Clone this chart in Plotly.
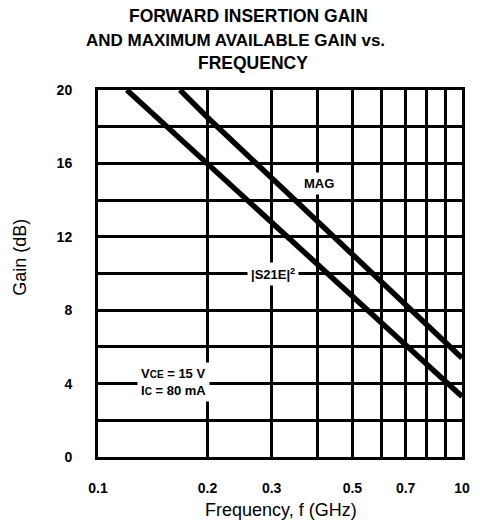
import numpy as np
import plotly.graph_objects as go

# ---- data ----
s21_freq = [0.12, 0.2, 0.3, 0.5, 0.7, 1.0]
s21_gain = [20.0, 16.0, 12.8, 8.8, 6.1, 3.3]
mag_freq = [0.168, 0.2, 0.3, 0.5, 0.7, 1.0]
mag_gain = [20.0, 18.5, 15.2, 11.1, 8.3, 5.4]

x_tickvals = [0.1, 0.2, 0.3, 0.5, 0.7, 1.0]
x_ticktext = ["0.1", "0.2", "0.3", "0.5", "0.7", "10"]
x_minorvals = [0.4, 0.6, 0.8, 0.9]
y_tickvals = [0, 4, 8, 12, 16, 20]
y_ticktext = ["0", "4", "8", "12", "16", "20"]
y_minorvals = [2, 6, 10, 14, 18]

title_lines = ["FORWARD INSERTION GAIN", "AND MAXIMUM AVAILABLE GAIN vs.", "FREQUENCY"]

FONT = "Liberation Sans, Arial, sans-serif"

fig = go.Figure()
fig.add_trace(go.Scatter(x=s21_freq, y=s21_gain, mode="lines",
                         line=dict(color="black", width=5.5), showlegend=False,
                         hoverinfo="skip"))
fig.add_trace(go.Scatter(x=mag_freq, y=mag_gain, mode="lines",
                         line=dict(color="black", width=5.5), showlegend=False,
                         hoverinfo="skip"))

annotations = []
# title lines (pixel centres y = 16, 40, 63)
for txt, yp, xp, sz in zip(title_lines, [1.202, 1.136, 1.074], [0.414, 0.379, 0.427],
                           [17.5, 17, 17.5]):
    annotations.append(dict(text=txt, xref="paper", yref="paper", x=xp, y=yp,
                            xanchor="center", yanchor="middle", showarrow=False,
                            font=dict(family=FONT, size=sz, color="black", weight="bold")))
# axis titles
annotations.append(dict(text="Frequency, f (GHz)", xref="paper", yref="paper",
                        x=0.503, y=-0.144, xanchor="center", yanchor="middle",
                        showarrow=False, font=dict(family=FONT, size=18, color="black")))
annotations.append(dict(text="Gain (dB)", xref="paper", yref="paper",
                        x=-0.215, y=0.545, xanchor="center", yanchor="middle",
                        textangle=-90, showarrow=False,
                        font=dict(family=FONT, size=18, color="black")))
# curve labels
lab_font = dict(family=FONT, size=13, color="black", weight="bold")
annotations.append(dict(text="MAG", x=np.log10(0.405), y=14.9, xref="x", yref="y",
                        showarrow=False, bgcolor="white", borderpad=3, font=lab_font))
annotations.append(dict(text="|S21E|<sup>2</sup>", x=np.log10(0.302), y=10.0, xref="x", yref="y",
                        showarrow=False, bgcolor="white", borderpad=3, font=lab_font))
annotations.append(dict(text="V<span style='font-size:10px'>CE</span> = 15 V<br>"
                             "I<span style='font-size:10px'>C</span> = 80 mA",
                        x=np.log10(0.128), y=4.1, xref="x", yref="y", xanchor="left",
                        align="left", showarrow=False, bgcolor="white", borderpad=3,
                        font=lab_font))

grid = dict(showgrid=True, gridcolor="black", gridwidth=2.5)
tickfont = dict(family=FONT, size=14, color="black", weight="bold")

fig.update_layout(
    width=480, height=527,
    margin=dict(l=98, r=10, t=90, b=70),
    paper_bgcolor="white", plot_bgcolor="white",
    annotations=annotations,
    xaxis=dict(type="log", range=[-1, 0], tickvals=x_tickvals, ticktext=x_ticktext,
               minor=dict(tickvals=x_minorvals, ticks="", **grid),
               showline=True, linecolor="black", linewidth=3, mirror=True,
               ticks="", ticklabelstandoff=16, zeroline=False, tickfont=tickfont, **grid),
    yaxis=dict(range=[0, 20], tickvals=y_tickvals, ticktext=y_ticktext,
               minor=dict(tickvals=y_minorvals, ticks="", **grid),
               showline=True, linecolor="black", linewidth=3, mirror=True,
               ticks="", ticklabelstandoff=20, zeroline=False, tickfont=tickfont, **grid),
)

# remove the browser's default page margin so the figure sits at the window origin
fig.write_html("out.html",
               config={"displayModeBar": False},
               post_script="document.body.style.margin='0';document.body.style.overflow='hidden';")
